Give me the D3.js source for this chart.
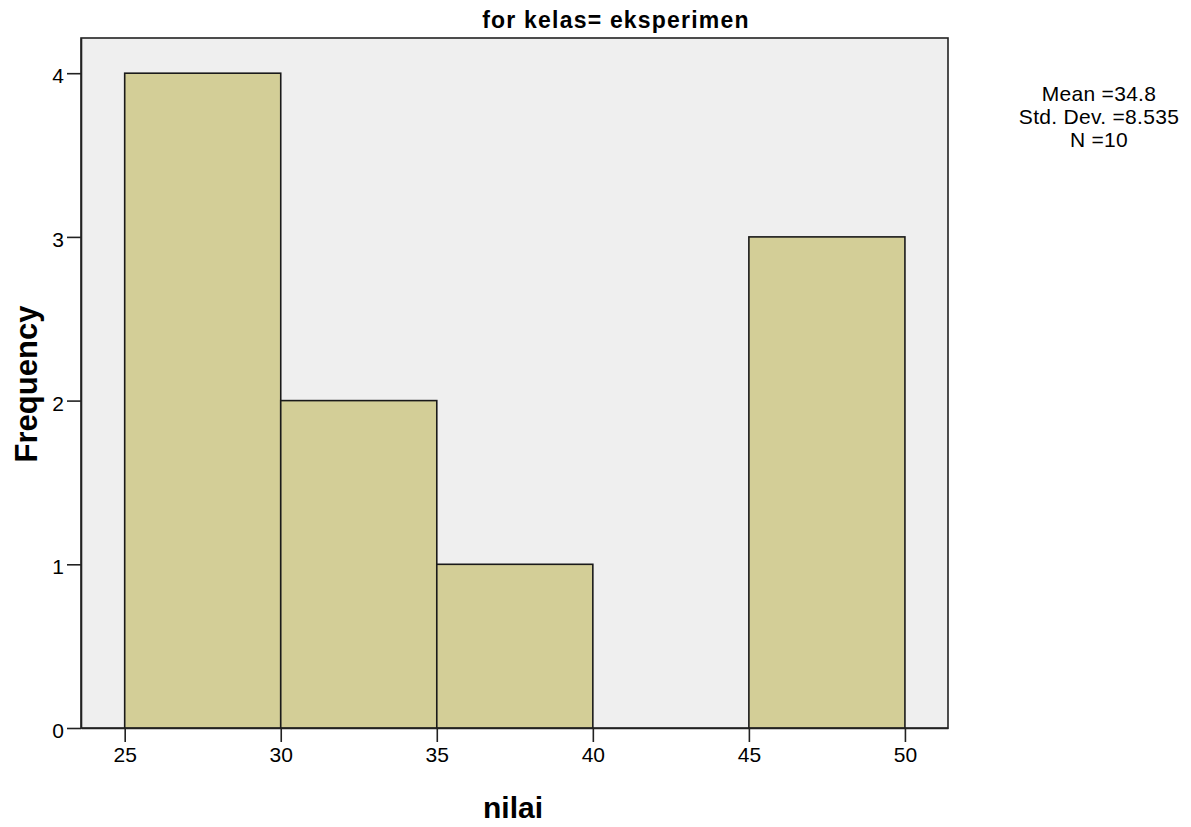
<!DOCTYPE html>
<html>
<head>
<meta charset="utf-8">
<script src="https://cdn.jsdelivr.net/npm/d3@7"></script>
<style>
  html, body { margin: 0; padding: 0; background: #ffffff; }
  svg { display: block; }
  text { font-family: "Liberation Sans", Arial, sans-serif; fill: #000; }
</style>
</head>
<body>
<svg id="chart" width="1191" height="827"></svg>
<script>
// Histogram of "nilai" for kelas = eksperimen
const binStarts = [25, 30, 35, 40, 45];
const binWidth = 5;
const frequencies = [4, 2, 1, 0, 3];
const xTicks = [25, 30, 35, 40, 45, 50];
const yTicks = [0, 1, 2, 3, 4];
const statLines = ["Mean =34.8", "Std. Dev. =8.535", "N =10"];

const svg = d3.select("#chart");
const plot = { left: 81, top: 38, right: 948, bottom: 728 };
const axisColor = "#222";

const x = d3.scaleLinear()
  .domain([23.6, 51.38])
  .range([plot.left, plot.right]);
const y = d3.scaleLinear()
  .domain([0, 4.215])
  .range([plot.bottom, plot.top]);

// plot background
svg.append("rect")
  .attr("x", plot.left).attr("y", plot.top)
  .attr("width", plot.right - plot.left)
  .attr("height", plot.bottom - plot.top)
  .attr("fill", "#efefef")
  .attr("stroke", axisColor).attr("stroke-width", 1.6);

// bars
svg.append("g").selectAll("rect")
  .data(binStarts.map((s, i) => ({ s, f: frequencies[i] })).filter(d => d.f > 0))
  .join("rect")
  .attr("x", d => x(d.s))
  .attr("y", d => y(d.f))
  .attr("width", d => x(d.s + binWidth) - x(d.s))
  .attr("height", d => y(0) - y(d.f))
  .attr("fill", "#d3ce97")
  .attr("stroke", "#1a1a1a").attr("stroke-width", 1.6);

// x axis
const xAxis = svg.append("g")
  .attr("transform", `translate(0,${plot.bottom})`)
  .call(d3.axisBottom(x).tickValues(xTicks).tickSizeInner(14).tickSizeOuter(0)
    .tickPadding(5).tickFormat(d3.format("d")));
xAxis.select(".domain").attr("stroke", axisColor).attr("stroke-width", 1.6);
xAxis.selectAll(".tick line").attr("stroke", axisColor).attr("stroke-width", 1.6);
xAxis.selectAll(".tick text").attr("font-size", 21)
  .attr("font-family", "Liberation Sans, Arial, sans-serif").attr("fill", "#111");

// y axis
const yAxis = svg.append("g")
  .attr("transform", `translate(${plot.left},0)`)
  .call(d3.axisLeft(y).tickValues(yTicks).tickSizeInner(14).tickSizeOuter(0)
    .tickPadding(3).tickFormat(d3.format("d")));
yAxis.select(".domain").attr("stroke", axisColor).attr("stroke-width", 1.6);
yAxis.selectAll(".tick line").attr("stroke", axisColor).attr("stroke-width", 1.6);
yAxis.selectAll(".tick text").attr("font-size", 21).attr("dy", "0.45em")
  .attr("font-family", "Liberation Sans, Arial, sans-serif").attr("fill", "#111");

// title
svg.append("text")
  .attr("x", 616).attr("y", 28)
  .attr("text-anchor", "middle")
  .attr("font-size", 23).attr("font-weight", "bold")
  .attr("letter-spacing", 1.2)
  .text("for kelas= eksperimen");

// axis titles
svg.append("text")
  .attr("x", 513).attr("y", 818)
  .attr("text-anchor", "middle")
  .attr("font-size", 30).attr("font-weight", "bold")
  .text("nilai");

svg.append("text")
  .attr("transform", "translate(37,384) rotate(-90)")
  .attr("text-anchor", "middle")
  .attr("font-size", 31).attr("font-weight", "bold")
  .text("Frequency");

// summary statistics
svg.append("g").selectAll("text")
  .data(statLines)
  .join("text")
  .attr("x", 1099)
  .attr("y", (d, i) => 101 + i * 23)
  .attr("text-anchor", "middle")
  .attr("font-size", 21)
  .attr("letter-spacing", 0.3)
  .text(d => d);
</script>
</body>
</html>
